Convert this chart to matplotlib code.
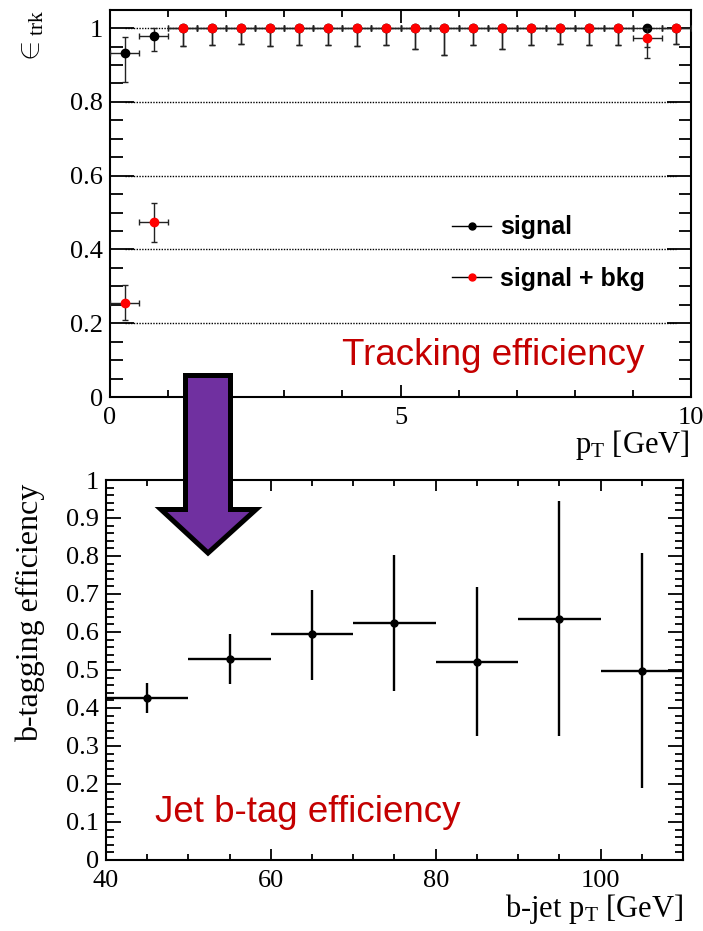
import matplotlib.pyplot as plt
from matplotlib.lines import Line2D
from matplotlib.patches import Polygon
from matplotlib.ticker import MultipleLocator

# tracking efficiency, 0.5 GeV bins in pT
trk_pt = [0.25, 0.75, 1.25, 1.75, 2.25, 2.75, 3.25, 3.75, 4.25, 4.75,
          5.25, 5.75, 6.25, 6.75, 7.25, 7.75, 8.25, 8.75, 9.25, 9.75]
trk_halfbin = 0.25

sig_eff = [0.933, 0.978, 1, 1, 1, 1, 1, 1, 1, 1,
           1, 1, 1, 1, 1, 1, 1, 1, 1, 1]
sig_lo = [0.079, 0.041, 0.049, 0.047, 0.043, 0.049, 0.047, 0.047, 0.049, 0.047,
          0.056, 0.074, 0.047, 0.056, 0.047, 0.043, 0.047, 0.047, 0.050, 0.043]
sig_hi = [0.043, 0.022, 0, 0, 0, 0, 0, 0, 0, 0,
          0, 0, 0, 0, 0, 0, 0, 0, 0, 0]

bkg_eff = [0.254, 0.474, 1, 1, 1, 1, 1, 1, 1, 1,
           1, 1, 1, 1, 1, 1, 1, 1, 0.974, 1]
bkg_lo = [0.045, 0.054, 0.049, 0.047, 0.043, 0.049, 0.047, 0.047, 0.049, 0.047,
          0.056, 0.074, 0.047, 0.056, 0.047, 0.043, 0.047, 0.047, 0.054, 0.043]
bkg_hi = [0.049, 0.052, 0, 0, 0, 0, 0, 0, 0, 0,
          0, 0, 0, 0, 0, 0, 0, 0, 0.026, 0]

trk_yticks = [0, 0.2, 0.4, 0.6, 0.8, 1]
trk_yticklabels = ['0', '0.2', '0.4', '0.6', '0.8', '1']
trk_xticks = [0, 5, 10]

# b-tagging efficiency, 10 GeV bins in b-jet pT
bjet_pt = [45, 55, 65, 75, 85, 95, 105]
bjet_halfbin = 5
bjet_eff = [0.427, 0.529, 0.594, 0.624, 0.522, 0.635, 0.498]
bjet_lo = [0.041, 0.066, 0.120, 0.179, 0.196, 0.309, 0.309]
bjet_hi = [0.040, 0.066, 0.117, 0.179, 0.197, 0.310, 0.309]

bjet_yticks = [0, 0.1, 0.2, 0.3, 0.4, 0.5, 0.6, 0.7, 0.8, 0.9, 1]
bjet_yticklabels = ['0', '0.1', '0.2', '0.3', '0.4', '0.5', '0.6', '0.7', '0.8', '0.9', '1']
bjet_xticks = [40, 60, 80, 100]

W, H = 703, 931
SERIF = 'Liberation Serif'
SANS = 'Liberation Sans'
RED = '#c40000'

plt.rcParams['font.family'] = SERIF
plt.rcParams['mathtext.fontset'] = 'custom'
plt.rcParams['mathtext.rm'] = SERIF
plt.rcParams['mathtext.it'] = SERIF + ':italic'

fig = plt.figure(figsize=(W / 100, H / 100), dpi=100)


def root_style(ax, xmaj, ymaj):
    for s in ax.spines.values():
        s.set_linewidth(1.5)
    ax.tick_params(which='both', direction='in', top=True, right=True,
                   labelsize=19, width=1.3)
    ax.tick_params(axis='x', which='major', length=xmaj[0], pad=7)
    ax.tick_params(axis='x', which='minor', length=xmaj[1])
    ax.tick_params(axis='y', which='major', length=ymaj[0], pad=5)
    ax.tick_params(axis='y', which='minor', length=ymaj[1])


# ---- top: tracking efficiency ----
ax1 = fig.add_axes([110 / W, 1 - 397 / H, 581 / W, 387 / H])
ax1.set_xlim(0, 10)
ax1.set_ylim(0, 1.049)
ax1.hlines(trk_yticks[1:], trk_pt[0], trk_pt[-1], colors='black',
           linestyles=(0, (1, 1)), linewidth=1, zorder=1)

ax1.errorbar(trk_pt, sig_eff, xerr=trk_halfbin, yerr=[sig_lo, sig_hi],
             fmt='o', color='black', ms=6, elinewidth=1, capsize=2.5,
             capthick=1, ecolor='#222222', zorder=3)
ax1.errorbar(trk_pt, bkg_eff, xerr=trk_halfbin, yerr=[bkg_lo, bkg_hi],
             fmt='o', color='red', mec='red', ms=6, elinewidth=1, capsize=2.5,
             capthick=1, ecolor='#222222', zorder=4)

ax1.set_xticks(trk_xticks)
ax1.set_yticks(trk_yticks)
ax1.set_yticklabels(trk_yticklabels)
ax1.xaxis.set_minor_locator(MultipleLocator(1))
ax1.yaxis.set_minor_locator(MultipleLocator(0.05))
root_style(ax1, (9, 5), (17, 9))

handles = [
    Line2D([], [], color='black', lw=1, marker='o', ms=5,
           mfc='black', mec='black'),
    Line2D([], [], color='black', lw=1, marker='o', ms=5,
           mfc='red', mec='red'),
]
ax1.legend(handles, ['signal', 'signal + bkg'], loc='upper left',
           bbox_to_anchor=(0.589, 0.469), frameon=False, borderpad=0,
           borderaxespad=0, handlelength=1.55, handletextpad=0.35,
           labelspacing=1.1, prop={'family': SANS, 'weight': 'bold', 'size': 18})

ax1.text((342 - 110) / 581, (397 - 365) / 387, 'Tracking efficiency',
         transform=ax1.transAxes, family=SANS, fontsize=26.5, color=RED,
         ha='left', va='baseline')

fig.text(690 / W, 1 - 453 / H, r'p$_{\rm T}$ [GeV]', fontsize=22,
         ha='right', va='baseline')
fig.text(32 / W, 1 - 10 / H, r'$\in_{\rm trk}$', fontsize=22,
         rotation=90, ha='center', va='top')

# ---- bottom: b-tagging efficiency ----
ax2 = fig.add_axes([106 / W, 1 - 860 / H, 577 / W, 380 / H])
ax2.set_xlim(40, 110)
ax2.set_ylim(0, 1)
ax2.errorbar(bjet_pt, bjet_eff, xerr=bjet_halfbin, yerr=[bjet_lo, bjet_hi],
             fmt='o', color='black', ms=5, elinewidth=1.7, capsize=0, zorder=3)
ax2.set_xticks(bjet_xticks)
ax2.set_yticks(bjet_yticks)
ax2.set_yticklabels(bjet_yticklabels)
ax2.xaxis.set_minor_locator(MultipleLocator(5))
ax2.yaxis.set_minor_locator(MultipleLocator(0.02))
root_style(ax2, (8, 4.5), (11, 6))

ax2.text((155 - 106) / 577, (860 - 822) / 380, 'Jet b-tag efficiency',
         transform=ax2.transAxes, family=SANS, fontsize=26.5, color=RED,
         ha='left', va='baseline')
fig.text(683 / W, 1 - 917 / H, r'b-jet p$_{\rm T}$ [GeV]', fontsize=22,
         ha='right', va='baseline')
fig.text(30 / W, 1 - 484 / H, 'b-tagging efficiency', fontsize=23,
         rotation=90, ha='center', va='top')

# ---- purple arrow linking the two panels ----
arrow_px = [(185.5, 375.5), (230.5, 375.5), (230.5, 509.5), (256, 509.5),
            (208, 553), (161, 509.5), (185.5, 509.5)]
arrow = Polygon([(x / W, 1 - y / H) for x, y in arrow_px], closed=True,
                transform=fig.transFigure, facecolor='#7030a0',
                edgecolor='black', linewidth=3.6, joinstyle='miter', zorder=10)
fig.add_artist(arrow)

fig.savefig('out.png', dpi=100)
